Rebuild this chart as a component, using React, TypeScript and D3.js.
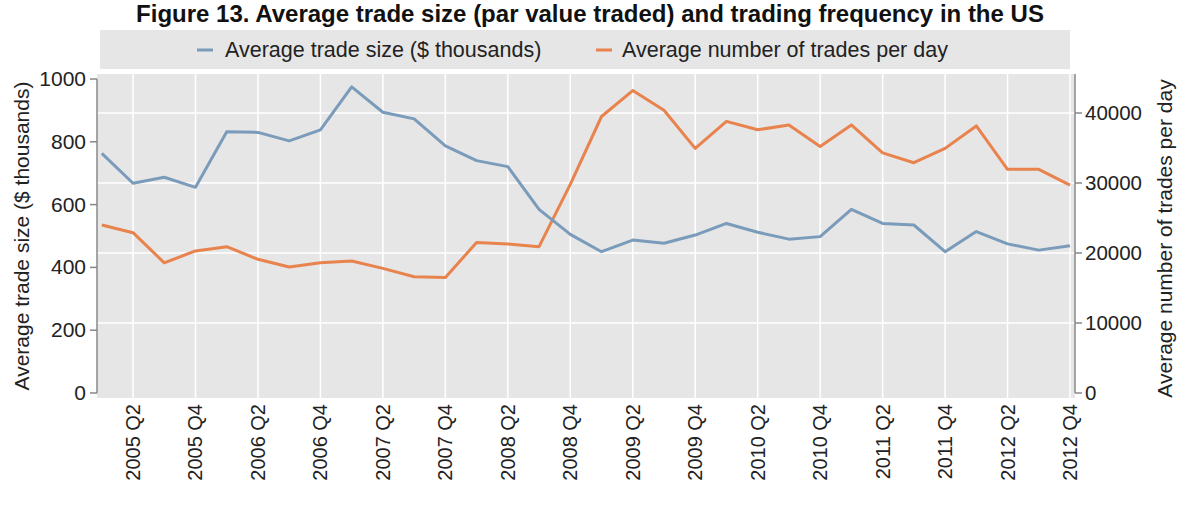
import * as d3 from 'd3';

const quarters = [
  '2005 Q1', '2005 Q2', '2005 Q3', '2005 Q4',
  '2006 Q1', '2006 Q2', '2006 Q3', '2006 Q4',
  '2007 Q1', '2007 Q2', '2007 Q3', '2007 Q4',
  '2008 Q1', '2008 Q2', '2008 Q3', '2008 Q4',
  '2009 Q1', '2009 Q2', '2009 Q3', '2009 Q4',
  '2010 Q1', '2010 Q2', '2010 Q3', '2010 Q4',
  '2011 Q1', '2011 Q2', '2011 Q3', '2011 Q4',
  '2012 Q1', '2012 Q2', '2012 Q3', '2012 Q4',
];

// average trade size, $ thousands (left axis)
const tradeSize = [
  763, 668, 687, 655, 832, 830, 803, 838,
  975, 894, 873, 787, 740, 721, 585, 505,
  450, 487, 477, 503, 540, 512, 490, 498,
  585, 540, 535, 450, 514, 475, 455, 469,
];

// average number of trades per day (right axis)
const tradesPerDay = [
  24000, 22900, 18600, 20300, 20900, 19100, 18000, 18600,
  18850, 17800, 16600, 16500, 21500, 21300, 20900, 29800,
  39500, 43200, 40400, 34950, 38800, 37600, 38300, 35200,
  38300, 34300, 32900, 34950, 38150, 31950, 31950, 29700,
];

const leftTicks = [0, 200, 400, 600, 800, 1000];
const rightTicks = [0, 10000, 20000, 30000, 40000];
const xTickLabels = quarters.filter((_, i) => i % 2 === 1);

const BLUE = '#7b9bbb';
const ORANGE = '#e8834e';
const FONT = "'Liberation Sans', Arial, sans-serif";

const plot = { left: 97, right: 1075, top: 74, bottom: 398 };

export default function App() {
  const x = d3.scaleLinear().domain([0, quarters.length - 1]).range([101.8, 1070]);
  const yL = d3.scaleLinear().domain([0, 1000]).range([393, 79]);
  const yR = d3.scaleLinear().domain([0, 40000]).range([393, 113]);

  const lineL = d3.line<number>().x((_, i) => x(i)).y((d) => yL(d));
  const lineR = d3.line<number>().x((_, i) => x(i)).y((d) => yR(d));

  return (
    <svg width={1180} height={508} style={{ position: 'absolute', left: 0, top: 0, background: '#fff' }} fontFamily={FONT}>
      <text x={590} y={22} textAnchor="middle" fontSize={24} fontWeight="bold" fill="#111">
        Figure 13. Average trade size (par value traded) and trading frequency in the US
      </text>

      {/* legend */}
      <rect x={100} y={30} width={970} height={39} fill="#e6e6e6" />
      <line x1={197} x2={213} y1={50} y2={50} stroke={BLUE} strokeWidth={3} />
      <text x={225} y={57} fontSize={21.5} fill="#222">Average trade size ($ thousands)</text>
      <line x1={596} x2={612} y1={50} y2={50} stroke={ORANGE} strokeWidth={3} />
      <text x={622} y={57} fontSize={21.5} fill="#222">Average number of trades per day</text>

      {/* plot region */}
      <rect x={plot.left} y={plot.top} width={plot.right - plot.left} height={plot.bottom - plot.top} fill="#e6e6e6" />
      {rightTicks.filter((t) => t > 0).map((t) => (
        <line key={t} x1={plot.left} x2={plot.right} y1={yR(t)} y2={yR(t)} stroke="#fff" strokeWidth={1.5} />
      ))}
      {xTickLabels.map((q) => {
        const xi = x(quarters.indexOf(q));
        return <line key={q} x1={xi} x2={xi} y1={plot.top} y2={plot.bottom} stroke="#fff" strokeWidth={1.5} />;
      })}

      <path d={lineR(tradesPerDay) ?? ''} fill="none" stroke={ORANGE} strokeWidth={3} strokeLinejoin="round" />
      <path d={lineL(tradeSize) ?? ''} fill="none" stroke={BLUE} strokeWidth={3} strokeLinejoin="round" />

      {/* left axis */}
      <line x1={plot.left} x2={plot.left} y1={yL(1000)} y2={yL(0)} stroke="#888" strokeWidth={1.5} />
      {leftTicks.map((t) => (
        <g key={t}>
          <line x1={plot.left - 7} x2={plot.left} y1={yL(t)} y2={yL(t)} stroke="#888" strokeWidth={1.5} />
          <text x={plot.left - 11} y={yL(t) + 7} textAnchor="end" fontSize={21} fill="#222">{t}</text>
        </g>
      ))}
      <text transform={`translate(29,${(yL(0) + yL(1000)) / 2}) rotate(-90)`} textAnchor="middle" fontSize={21} fill="#222">
        Average trade size ($ thousands)
      </text>

      {/* right axis */}
      <line x1={plot.right} x2={plot.right} y1={plot.top} y2={yR(0)} stroke="#888" strokeWidth={1.5} />
      {rightTicks.map((t) => (
        <g key={t}>
          <line x1={plot.right} x2={plot.right + 7} y1={yR(t)} y2={yR(t)} stroke="#888" strokeWidth={1.5} />
          <text x={plot.right + 10} y={yR(t) + 7} textAnchor="start" fontSize={20.5} fill="#222">{t}</text>
        </g>
      ))}
      <text transform={`translate(1172,${(yR(0) + plot.top) / 2 + 5}) rotate(-90)`} textAnchor="middle" fontSize={21} fill="#222">
        Average number of trades per day
      </text>

      {/* x axis labels */}
      {xTickLabels.map((q) => {
        const xi = x(quarters.indexOf(q));
        return (
          <text key={q} transform={`translate(${xi + 7},404) rotate(-90)`} textAnchor="end" fontSize={20} fill="#222">
            {q}
          </text>
        );
      })}
    </svg>
  );
}
